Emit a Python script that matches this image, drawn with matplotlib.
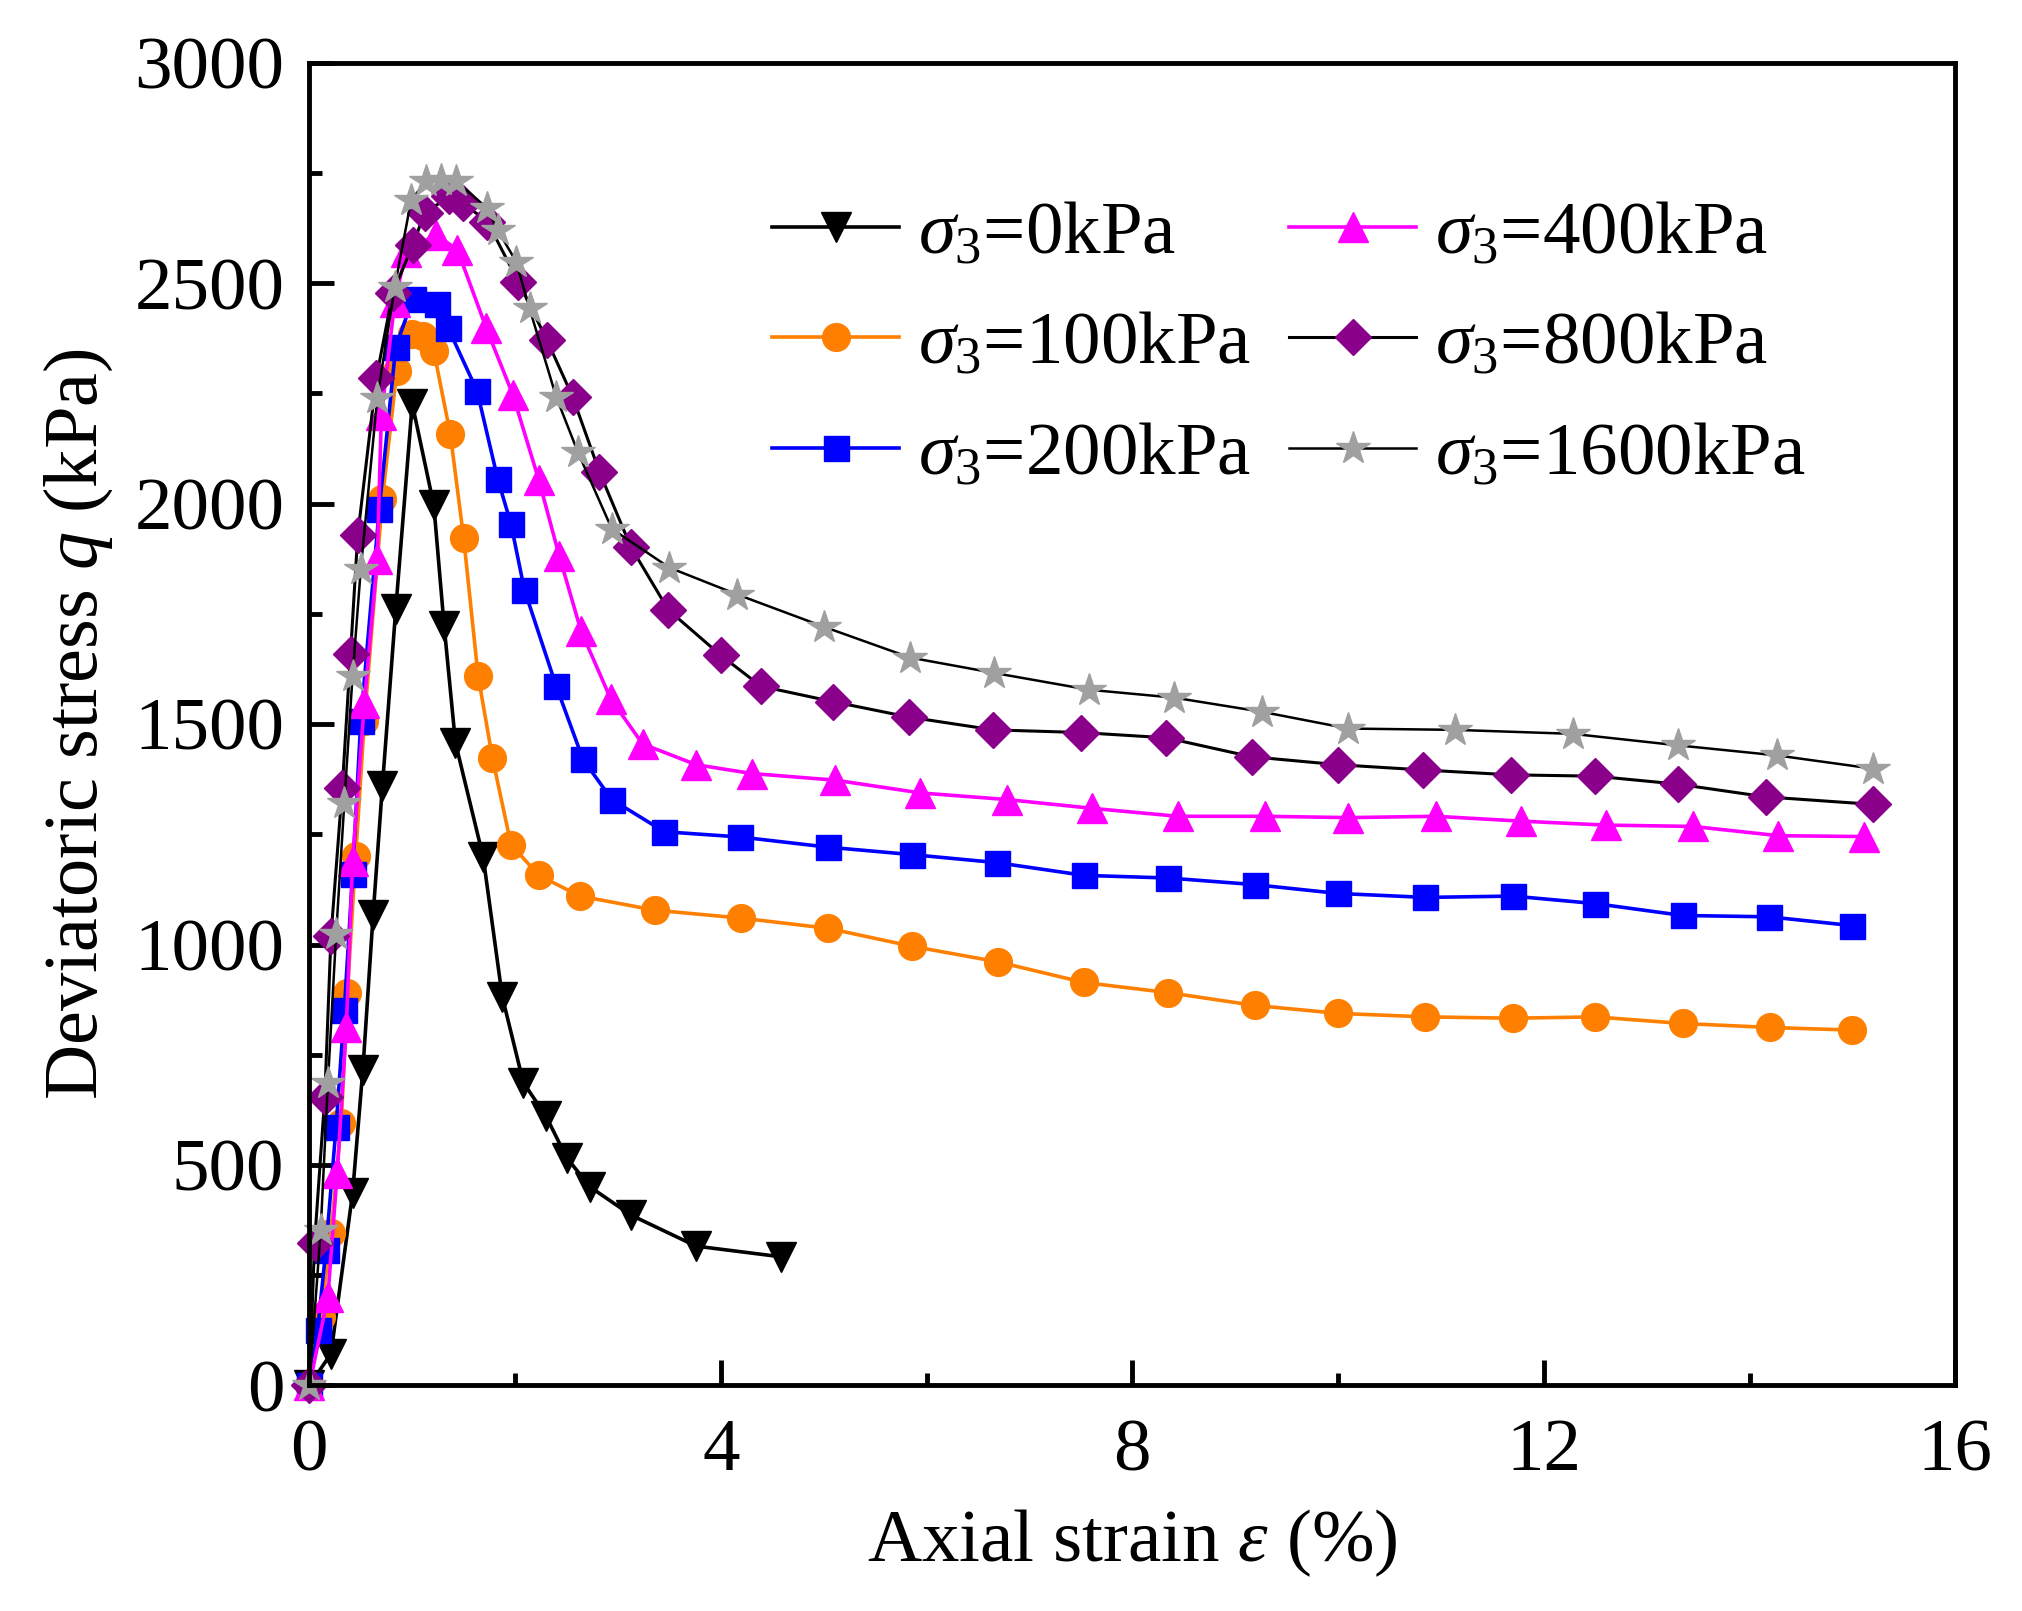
import numpy as np
import matplotlib
matplotlib.use("Agg")
from matplotlib import pyplot as plt

plt.rcParams['font.family'] = ['Liberation Serif', 'DejaVu Serif']
plt.rcParams['mathtext.fontset'] = 'custom'
plt.rcParams['mathtext.rm'] = 'Liberation Serif'
plt.rcParams['mathtext.it'] = 'Liberation Serif:italic'
plt.rcParams['mathtext.bf'] = 'Liberation Serif:bold'

# sigma3 = 0 kPa
x0 = [0, 0.21, 0.42, 0.52, 0.62, 0.71, 0.84, 1.0, 1.21, 1.31, 1.42, 1.69, 1.875,
      2.08, 2.3, 2.5, 2.73, 3.13, 3.76, 4.58]
q0 = [0, 72, 436, 716, 1068, 1360, 1761, 2227, 1996, 1723, 1458, 1198, 882,
      687, 611, 517, 450, 386, 316, 292]

# sigma3 = 100 kPa
x100 = [0, 0.11, 0.21, 0.31, 0.37, 0.45, 0.535, 0.71, 0.85, 1.0, 1.1, 1.21, 1.37,
        1.5, 1.64, 1.78, 1.96, 2.23, 2.63, 3.36, 4.2, 5.04, 5.86, 6.69, 7.53,
        8.35, 9.19, 10.0, 10.85, 11.7, 12.5, 13.35, 14.2, 15.0]
q100 = [0, 155, 345, 595, 890, 1201, 1508, 2011, 2301, 2386, 2380, 2346, 2158,
        1922, 1610, 1423, 1227, 1157, 1110, 1078, 1060, 1037, 996, 961, 914,
        891, 862, 844, 836, 833, 836, 821, 812, 806]

# sigma3 = 200 kPa
x200 = [0, 0.08, 0.16, 0.26, 0.34, 0.42, 0.50, 0.68, 0.84, 1.005, 1.24, 1.35,
        1.63, 1.83, 1.96, 2.09, 2.4, 2.66, 2.94, 3.45, 4.19, 5.04, 5.86, 6.68,
        7.53, 8.35, 9.19, 10.0, 10.85, 11.7, 12.5, 13.35, 14.19, 15.0]
q200 = [0, 125, 307, 587, 852, 1159, 1508, 1989, 2356, 2464, 2452, 2398,
        2256, 2057, 1954, 1805, 1586, 1420, 1329, 1256, 1244, 1221, 1204, 1186,
        1157, 1151, 1136, 1116, 1107, 1110, 1093, 1066, 1063, 1043]

# sigma3 = 400 kPa
x400 = [0, 0.18, 0.27, 0.36, 0.42, 0.535, 0.66, 0.70, 0.83, 0.94, 1.23, 1.44,
        1.72, 1.98, 2.23, 2.43, 2.64, 2.93, 3.24, 3.76, 4.3, 5.11, 5.94, 6.78,
        7.61, 8.44, 9.29, 10.1, 10.95, 11.78, 12.6, 13.45, 14.28, 15.11]
q400 = [0, 201, 481, 814, 1189, 1549, 1875, 2201, 2458, 2572, 2610, 2576,
        2398, 2246, 2054, 1881, 1712, 1557, 1455, 1408, 1388, 1373, 1344, 1329,
        1309, 1291, 1291, 1288, 1291, 1280, 1271, 1268, 1247, 1245]

# sigma3 = 800 kPa
x800 = [0, 0.05, 0.15, 0.21, 0.32, 0.40, 0.47, 0.65, 0.81, 1.005, 1.12, 1.36,
        1.49, 1.73, 2.03, 2.31, 2.56, 2.82, 3.125, 3.49, 4.0, 4.39, 5.09, 5.83,
        6.65, 7.5, 8.33, 9.16, 10.0, 10.83, 11.68, 12.5, 13.3, 14.16, 15.2]
q800 = [0, 322, 655, 1019, 1356, 1659, 1928, 2284, 2477, 2587, 2659, 2697,
        2682, 2640, 2504, 2371, 2242, 2072, 1902, 1759, 1656, 1586, 1551, 1516,
        1487, 1481, 1469, 1426, 1408, 1396, 1385, 1382, 1364, 1335, 1318]

# sigma3 = 1600 kPa
x1600 = [0, 0.11, 0.18, 0.26, 0.34, 0.42, 0.50, 0.66, 0.83, 0.99, 1.135, 1.28,
         1.43, 1.73, 1.83, 2.01, 2.14, 2.40, 2.61, 2.94, 3.5, 4.16, 5.0, 5.84,
         6.66, 7.58, 8.41, 9.26, 10.1, 11.14, 12.28, 13.3, 14.27, 15.2]
q1600 = [0, 352, 686, 1023, 1322, 1610, 1852, 2239, 2492, 2689, 2731, 2735,
         2731, 2670, 2621, 2549, 2443, 2242, 2117, 1943, 1855, 1794, 1721, 1651,
         1616, 1578, 1560, 1528, 1490, 1487, 1478, 1452, 1429, 1399]

labels = [r'$\sigma_{\mathit{3}}$=0kPa', r'$\sigma_{\mathit{3}}$=100kPa',
          r'$\sigma_{\mathit{3}}$=200kPa', r'$\sigma_{\mathit{3}}$=400kPa',
          r'$\sigma_{\mathit{3}}$=800kPa', r'$\sigma_{\mathit{3}}$=1600kPa']

fig = plt.figure(figsize=(20.22, 16.11), dpi=100)
ax = fig.add_axes([0.153, 0.140, 0.814, 0.821])

ax.plot(x0, q0, color='black', marker='v', ms=22, lw=2.6, label=labels[0], clip_on=False)
ax.plot(x100, q100, color='#ff8000', marker='o', ms=20, lw=2.6, label=labels[1], clip_on=False)
ax.plot(x200, q200, color='#0000ff', marker='s', ms=18, lw=2.6, label=labels[2], clip_on=False)
ax.plot(x400, q400, color='#ff00ff', marker='^', ms=22, lw=2.6, label=labels[3], clip_on=False)
ax.plot(x800, q800, color='black', marker='D', ms=18, mfc='#8b008b', mec='#8b008b',
        lw=2.2, label=labels[4], clip_on=False)
ax.plot(x1600, q1600, color='black', marker='*', ms=25, mfc='#a0a0a0', mec='#a0a0a0',
        lw=1.8, label=labels[5], clip_on=False)

ax.set_xlim(0, 16)
ax.set_ylim(0, 3000)
ax.set_xticks([0, 4, 8, 12, 16])
ax.set_xticks([2, 6, 10, 14], minor=True)
ax.set_yticks(np.arange(0, 3001, 500))
ax.set_yticks(np.arange(250, 3000, 500), minor=True)

for s in ax.spines.values():
    s.set_linewidth(3.5)
ax.tick_params(which='both', direction='in', width=3.5, labelsize=54, top=False, right=False)
ax.tick_params(which='major', length=18)
ax.tick_params(which='minor', length=9)
ax.tick_params(axis='y', pad=18)
ax.tick_params(axis='x', pad=24)

ax.set_xlabel(r'Axial strain $\varepsilon$ (%)', fontsize=54, labelpad=15)
ax.set_ylabel(r'Deviatoric stress $q$ (kPa)', fontsize=55, labelpad=14)

ax.legend(ncol=2, frameon=False, fontsize=54, loc='upper left',
          bbox_to_anchor=(0.24, 0.947), handlelength=1.7, columnspacing=0.5,
          labelspacing=0.56, handletextpad=0.25)

fig.savefig('out.png', dpi=100)
